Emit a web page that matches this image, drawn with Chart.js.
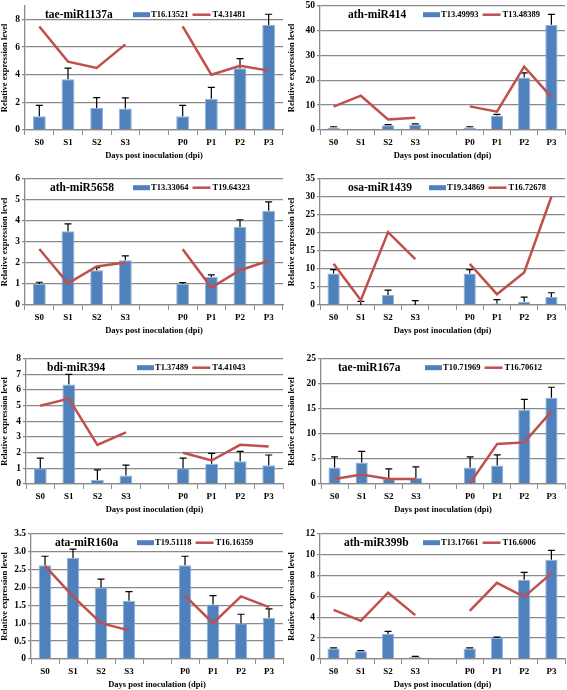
<!DOCTYPE html>
<html>
<head>
<meta charset="utf-8">
<script src="https://cdn.jsdelivr.net/npm/chart.js@4"></script>
<style>
  body { margin: 0; background: #fff; }
  #wrap { position: relative; width: 567px; height: 690px; overflow: hidden; }
  #wrap canvas { position: absolute; }
</style>
</head>
<body>
<div id="wrap">
  <canvas id="c0" width="285" height="163" style="left:0;top:-2px"></canvas>
  <canvas id="c1" width="280" height="163" style="left:287px;top:-2px"></canvas>
  <canvas id="c2" width="285" height="165" style="left:0;top:171px"></canvas>
  <canvas id="c3" width="280" height="165" style="left:287px;top:171px"></canvas>
  <canvas id="c4" width="285" height="164" style="left:0;top:351px"></canvas>
  <canvas id="c5" width="280" height="164" style="left:287px;top:351px"></canvas>
  <canvas id="c6" width="285" height="164" style="left:0;top:526px"></canvas>
  <canvas id="c7" width="280" height="164" style="left:287px;top:526px"></canvas>
</div>
<script>
// days post inoculation, empty slot separates the S and P series
const days = ["S0", "S1", "S2", "S3", "", "P0", "P1", "P2", "P3"];

// tae-miR1137a
const mir1137aBar = [1.0, 3.67, 1.6, 1.55, null, 1.0, 2.27, 4.48, 7.6];
const mir1137aErr = [1.78, 4.48, 2.34, 2.32, null, 1.78, 3.09, 5.17, 8.38];
const mir1137aLine = [7.5, 4.95, 4.5, 6.2, null, 7.5, 4.0, 4.65, 4.3];

// ath-miR414
const mir414Bar = [1.0, 0, 1.95, 2.2, null, 1.0, 5.8, 21.1, 42.3];
const mir414Err = [1.3, null, 2.2, 2.5, null, 1.3, 6.3, 23, 46.5];
const mir414Line = [9.4, 13.8, 4.2, 4.9, null, 9.5, 7.4, 25.5, 13.2];

// ath-miR5658
const mir5658Bar = [1.0, 3.5, 1.65, 2.12, null, 1.0, 1.33, 3.7, 4.48];
const mir5658Err = [1.08, 3.85, 1.78, 2.33, null, 1.07, 1.43, 4.05, 4.9];
const mir5658Line = [2.66, 1.03, 1.83, 2.02, null, 2.65, 0.83, 1.65, 2.1];

// osa-miR1439
const mir1439Bar = [8.7, 0, 2.8, 0, null, 8.7, 0.4, 0.9, 2.2];
const mir1439Err = [9.8, 1.0, 4.1, 1.2, null, 9.8, 1.5, 2.2, 3.4];
const mir1439Line = [11.4, 1.3, 20.2, 12.7, null, 11.4, 3.0, 9.0, 30];

// bdi-miR394
const mir394Bar = [1.0, 6.35, 0.25, 0.55, null, 1.0, 1.3, 1.45, 1.2];
const mir394Err = [1.65, 7.0, 0.9, 1.2, null, 1.65, 1.95, 2.08, 1.85];
const mir394Line = [5.0, 5.45, 2.5, 3.3, null, 2.0, 1.5, 2.5, 2.4];

// tae-miR167a
const mir167aBar = [3.3, 4.3, 1.0, 1.2, null, 3.3, 3.7, 14.8, 17.2];
const mir167aErr = [5.4, 6.5, 3.0, 3.4, null, 5.4, 5.8, 16.9, 19.3];
const mir167aLine = [1.0, 1.9, 1.0, 1.0, null, 0.2, 8.0, 8.3, 14.5];

// ata-miR160a
const mir160aBar = [2.62, 2.82, 2.0, 1.63, null, 2.62, 1.52, 1.0, 1.15];
const mir160aErr = [2.87, 3.07, 2.23, 1.88, null, 2.87, 1.77, 1.25, 1.4];
const mir160aLine = [2.6, 1.75, 1.0, 0.8, null, 1.77, 1.0, 1.75, 1.45];

// ath-miR399b
const mir399bBar = [1.0, 0.75, 2.4, 0.2, null, 1.0, 2.0, 7.6, 9.5];
const mir399bErr = [1.07, 0.8, 2.65, 0.25, null, 1.07, 2.1, 8.3, 10.4];
const mir399bLine = [4.7, 3.65, 6.35, 4.2, null, 4.6, 7.3, 5.95, 8.2];

const mirNames = ["tae-miR1137a", "ath-miR414", "ath-miR5658", "osa-miR1439",
                  "bdi-miR394", "tae-miR167a", "ata-miR160a", "ath-miR399b"];
const barNames = ["T16.13521", "T13.49993", "T13.33064", "T19.34869",
                  "T1.37489", "T10.71969", "T19.51118", "T13.17661"];
const lineNames = ["T4.31481", "T13.48389", "T19.64323", "T16.72678",
                   "T4.41043", "T16.70612", "T16.16359", "T16.6006"];
const yMax = [9, 50, 6, 35, 8, 25, 3.5, 12];
const yStep = [1, 5, 1, 5, 1, 5, 0.5, 2];

const barSets = [mir1137aBar, mir414Bar, mir5658Bar, mir1439Bar, mir394Bar, mir167aBar, mir160aBar, mir399bBar];
const errSets = [mir1137aErr, mir414Err, mir5658Err, mir1439Err, mir394Err, mir167aErr, mir160aErr, mir399bErr];
const lineSets = [mir1137aLine, mir414Line, mir5658Line, mir1439Line, mir394Line, mir167aLine, mir160aLine, mir399bLine];

// layout: width left of each plot, and where the name / legend start inside it
const axisWidth = [25, 33, 25, 33, 26, 34, 31, 33];
const nameOffset = [20, 28, 25, 28, 21, 17, 24, 24];
const legendOffset = [108, 103, 108, 109, 111, 104, 106, 103];

const BLUE = "#4f81bd";
const RED = "#c0504d";
const GRID = "#8a8a8a";
const SERIF = "'Liberation Serif', 'Times New Roman', serif";

// plus-only error bars on top of the bars
const errorBars = {
    id: "errorBars",
    afterDatasetDraw(chart, args) {
        if (args.index !== 0) return;
        const opt = chart.options.plugins.errorBars;
        const y = chart.scales.y;
        const ctx = chart.ctx;
        ctx.save();
        ctx.strokeStyle = "#000";
        ctx.lineWidth = 1.2;
        args.meta.data.forEach((bar, i) => {
            if (opt.values[i] == null) return;
            const top = y.getPixelForValue(opt.values[i]);
            const base = y.getPixelForValue(barSets[opt.panel][i] || 0);
            ctx.beginPath();
            ctx.moveTo(bar.x, base);
            ctx.lineTo(bar.x, top);
            ctx.moveTo(bar.x - 3.5, top);
            ctx.lineTo(bar.x + 3.5, top);
            ctx.stroke();
        });
        ctx.restore();
    }
};

// microRNA name and legend drawn inside the plot area
const header = {
    id: "header",
    afterDraw(chart) {
        const o = chart.options.plugins.header;
        const a = chart.chartArea;
        const ctx = chart.ctx;
        const cy = a.top + 9;
        ctx.save();
        ctx.textBaseline = "middle";
        ctx.fillStyle = "#000";
        ctx.font = "bold 11.5px " + SERIF;
        ctx.fillText(o.name, a.left + o.nameX, cy);
        ctx.font = "bold 8.5px " + SERIF;
        let x = a.left + o.legendX;
        ctx.fillStyle = BLUE;
        ctx.fillRect(x, cy - 2.5, 17, 5);
        x += 18;
        ctx.fillStyle = "#000";
        ctx.fillText(o.bar, x, cy);
        x += ctx.measureText(o.bar).width + 4;
        ctx.strokeStyle = RED;
        ctx.lineWidth = 2.5;
        ctx.beginPath();
        ctx.moveTo(x, cy);
        ctx.lineTo(x + 18, cy);
        ctx.stroke();
        x += 20;
        ctx.fillText(o.line, x, cy);
        ctx.restore();
    }
};

for (let p = 0; p < 8; p++) {
    new Chart(document.getElementById("c" + p), {
        type: "bar",
        data: {
            labels: days,
            datasets: [{
                type: "bar",
                label: barNames[p],
                data: barSets[p],
                backgroundColor: BLUE,
                borderColor: "#95b3d7",
                borderWidth: 1,
                categoryPercentage: 1,
                barPercentage: 0.45,
                order: 1
            }, {
                type: "line",
                label: lineNames[p],
                data: lineSets[p],
                borderColor: RED,
                borderWidth: 2.5,
                pointRadius: 0,
                tension: 0,
                spanGaps: false,
                order: 0
            }]
        },
        options: {
            responsive: false,
            animation: false,
            layout: { padding: { right: 2 } },
            plugins: {
                legend: { display: false },
                tooltip: { enabled: false },
                errorBars: { values: errSets[p], panel: p },
                header: {
                    name: mirNames[p], bar: barNames[p], line: lineNames[p],
                    nameX: nameOffset[p], legendX: legendOffset[p]
                }
            },
            scales: {
                x: {
                    grid: { display: true, drawOnChartArea: false, color: GRID, tickLength: 5 },
                    border: { color: GRID, width: 1.3 },
                    ticks: { color: "#000", font: { family: SERIF, size: 9, weight: "bold" }, padding: 2 },
                    title: {
                        display: true, text: "Days post inoculation (dpi)", color: "#000",
                        font: { family: SERIF, size: 8.5, weight: "bold" }, padding: { top: 1, bottom: 0 }
                    }
                },
                y: {
                    min: 0,
                    max: yMax[p],
                    afterFit(scale) { scale.width = axisWidth[p]; },
                    ticks: { stepSize: yStep[p], color: "#000", font: { family: SERIF, size: 9.5, weight: "bold" }, padding: 2 },
                    grid: { color: GRID, lineWidth: 1.3, tickLength: 3 },
                    border: { color: GRID, width: 1.3 },
                    title: {
                        display: true, text: "Relative expression level", color: "#000",
                        font: { family: SERIF, size: 8.5, weight: "bold" }, padding: { top: 0, bottom: 2 }
                    }
                }
            }
        },
        plugins: [errorBars, header]
    });
}
</script>
</body>
</html>
